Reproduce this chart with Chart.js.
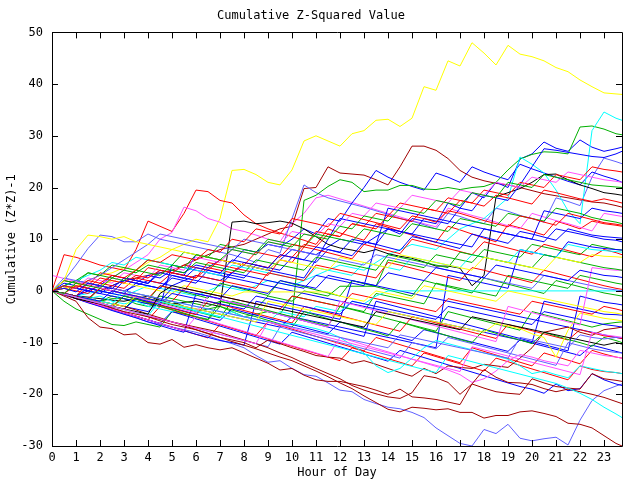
<!DOCTYPE html>
<html>
<head>
<meta charset="utf-8">
<script src="https://cdn.jsdelivr.net/npm/chart.js@4.4.0/dist/chart.umd.min.js"></script>
<style>
  body { margin: 0; background: #fff; }
  canvas { display: block; }
</style>
</head>
<body>
<canvas id="myChart" width="640" height="480" style="width:640px;height:480px"></canvas>
<script>
// sample times (hours)
const hours = [0,0.5,1,1.5,2,2.5,3,3.5,4,4.5,5,5.5,6,6.5,7,7.5,8,8.5,9,9.5,10,10.5,11,11.5,
  12,12.5,13,13.5,14,14.5,15,15.5,16,16.5,17,17.5,18,18.5,19,19.5,20,20.5,21,21.5,22,22.5,23,23.5,23.75];
const xTicks = [0,1,2,3,4,5,6,7,8,9,10,11,12,13,14,15,16,17,18,19,20,21,22,23];
const yTicks = [-30,-20,-10,0,10,20,30,40,50];

// series values, one per sample time
const yellow1 = [0,0.5,1,2,3,3.5,4.5,4,5.5,6.5,8,9,10,9.5,14,23.3,23.5,22.5,21,20.5,23.4,29,30,29,
  28,30.4,31,33,33.2,31.8,33.4,39.5,38.8,44.5,43.5,48,46,43.7,47.5,45.8,45.3,44.5,43.2,42.4,40.8,39.5,38.3,38.1,38];
const darkred1 = [0,0.5,1,0.5,0,1,2,2.5,3,3.5,4,5,6,7,8,8.5,9,10,11,12,12.5,19.8,20,24,
  22.8,22.6,22.4,21.5,20.5,24,28,28,27.2,25.6,23.3,22,21.3,20.8,20.5,20,19.4,18.8,18.4,18,17.6,17.2,17,16.5,16.2];
const red1 = [0,7,6.5,5.8,5,4.5,4,8,13.5,12.5,11.5,15,19.5,19.2,17.5,17,14.7,13,12,11.2,10.5,9.8,9,12,
  11.2,10.5,9.8,13,12.3,11.5,10.8,10,9.4,12.5,11.8,11,10.2,9.5,12.8,12.2,11.5,10.8,13.5,12.8,12,13.5,13,12.7,12.5];
const magenta1 = [0,-0.5,-1,0,1,2.5,4,5.5,7,10,11.3,16.2,15.5,14,13.3,12,11.5,10.8,10,9.5,13,15,18,18.5,
  17.8,17.1,16.4,15.7,15,14.3,13.6,13,12.4,16,15.3,14.6,14,13.3,12.6,12,15,14.3,13.6,13,12.3,11.6,15,14.6,14.4];
const lightblue1 = [0,2,5,8.2,10.8,10.5,9.5,9.5,11,10,9.5,9,8.5,8,7.5,7,6.3,5.5,8,7.3,14,20.5,19,18,
  17.4,16.8,16.2,15.5,14.8,14,13.5,12.8,12,15,14.4,13.6,13,16,15.4,14.6,14,13.3,18,17.3,16.5,22,25.7,25,24.6];
const blue1 = [0,-0.5,-1,0,1,0.5,0,1,2,1.5,1,2,3,2.5,2,3.5,5,4.5,4,6,8,7.5,7,8.5,
  10,9.5,9,10.5,12,11,14,13.5,13,17,16,19,18,21,20,25.5,26.5,28.8,27.6,27,29.2,27.8,27,27.5,27.8];
const blue2 = [0,1,0.5,0,-0.5,1,2,1.5,3,2.5,4,3.5,5,4.5,6,5.5,8,7.5,9,8.5,10,12,11,14,
  13.5,17,20,23.3,22,21,20.2,19.5,22.8,22,21,24,23,22.2,21.5,24.5,23.6,22.8,22,21.2,20.5,23,22.2,21.5,21];
const green1 = [0,-0.5,-1,-1.5,-2,-1.5,-1.5,-2.5,-3,-2.5,-2,-3,-4,-3.5,-3,-4,-5,-4.5,-4,-4.5,-5,17.5,18.5,20.2,
  21.5,21,19.2,19.5,19.5,20.4,20.4,19.7,19.6,20,19.6,20,20.2,21,23.4,25.5,26.4,26.9,26.8,26.5,31.7,31.9,31.3,30.4,30.2];
const cyan1 = [0,-0.5,-1,-0.5,0,-0.5,-1,0,1,0.5,0,-0.5,-1,0,1,0.5,0,1,2,1.5,1,2,3,4,
  5,4.5,4,5.5,7,8,9,8.5,8,10,12,13,14,16,18,25.9,24.5,22.8,19.5,15.5,13,31,34.6,33.4,33];
const black1 = [0,-0.5,-1,-1.2,-1.5,-1.8,-2,-1.5,-1,-1.8,-2.5,-2.2,-2,-2.5,-3,13.3,13.5,13,13.2,13.5,13.1,12,10.5,9,
  8.3,7.9,7.4,8,7.2,6.7,6.3,5.6,4.8,4.8,4.4,1,3,18.2,19,19.8,21,22.5,22.6,21.5,20.5,19.8,19,18.7,18.5];
const black2 = [0,-0.5,-1.5,-2,-2.5,-3,-3.5,-4,-4.5,-0.5,1,0.5,0,-0.5,-1,-1.5,-2,-2.5,-3,-3.5,-4,-4.5,-5,-5.5,
  -6,-6.5,-7,-4,-4.5,-5,-5.5,-6,-6.5,-7,-7.5,-5,-5.5,-6,-6.5,-7,-7.5,-8,-8.5,-9,-9.5,-10,-10.5,-10,-10.3];
const cyanFlat = [0,-0.5,-1,-1.5,-1,-2,-2.5,-2,-3,-3.5,-4,-3,-4,-4.5,-5,-4,-5,-5.5,-6,-4,-4.5,-5,-3,-3.5,
  -4,-2,-2.5,-1,0,0,0,0,0,0,0,0,0,0,0,0,0,0,0,0,0,0,0,0,0];
const yellowFlat = [0,0.5,1,1.5,1,2,1.5,1,0.5,0,-0.5,1,0.5,0,-0.5,-1,-0.2,-0.2,-0.2,-0.2,-0.2,-0.2,-0.2,-0.2,
  -1,-1.5,-2,0,-0.5,-1,-1.5,1,0.5,0,-0.5,-1,-1.5,-2,0,-0.5,-1,-1.5,-2,-2.5,-3,-3.5,-4,-4.3,-4.5];
const green2 = [0,-0.5,-1,-1.5,-2,-1,-1.5,-2,-2.5,-1,-1.5,-2,-2.5,-3,-2,-2.5,-3,-3.5,-1,-1.5,-2,0,-0.5,-1,
  0.9,0.9,0.9,0.9,6,5.5,5,4.5,7,6.5,6,5.5,8,7.5,7,6.5,9,8.5,8,7.5,7,9,8.5,8,7.9];
const lightblue2 = [0,-0.7,-1.5,-2.2,-3,-3.7,-4.5,-5.2,-6,-6.5,-7,-7.5,-8,-8.7,-9.5,-10.2,-11,-12.5,-13.8,-13.5,-15,-16.2,-16.5,-17.8,
  -19.2,-19.5,-21,-21.8,-22.5,-22.8,-23.5,-24.5,-26.5,-28,-29.5,-30,-26.8,-27.6,-25.8,-28.5,-29,-28.6,-28.3,-29.8,-25,-21.2,-19.3,-18.4,-18];
const darkred2 = [0,-0.5,-1,-1.8,-2.5,-3,-3.5,-4.2,-5,-5.5,-6,-6.5,-7,-7.5,-8,-8.8,-9.5,-10.2,-11,-12,-12.9,-14,-15,-16,
  -17,-18.3,-19.2,-19.9,-20.5,-20.8,-19.7,-16.4,-16.8,-17.7,-20,-18,-15.2,-16.7,-17.7,-17.8,-18.1,-18.9,-19.5,-19,-19.5,-20,-20.6,-21.4,-21.8];
const darkred3 = [0,-0.7,-1.5,-2,-2.5,-3.3,-4,-4.5,-5,-5.8,-6.5,-7,-7.5,-8.3,-9,-9.8,-10.5,-11.2,-12,-12.8,-13.5,-14.5,-15.5,-16.6,
  -17.8,-18.9,-20.3,-21.6,-22.9,-23.4,-22.5,-22.7,-23,-22.8,-23.5,-23.5,-24.6,-24.1,-24.1,-23.4,-23.2,-23.7,-24.3,-25.6,-25.8,-26.5,-28,-29.5,-30];
const darkred4 = [0,-0.5,-1,-1.5,-2,-2.5,-3,-3.7,-4.5,-5.2,-6,-6.7,-7.5,-8.2,-9,-9.5,-10,-11,-9.5,-10.2,-11,-11.7,-12.5,-12.8,
  -13,-14,-13.5,-14.2,-15,-15.8,-16.5,-15,-16,-14.5,-14.8,-15,-14.2,-14.5,-14.8,-13,-11,-8,-7.5,-7,-8,-8.6,-7.5,-7.2,-7];
const darkred5 = [0,-1,-2,-5.2,-7,-7.3,-8.5,-8.3,-10,-10.3,-9.4,-10.9,-10.4,-11,-11.4,-11,-12,-13,-14,-15.3,-15,-16.3,-17.2,-17.5,
  -17.5,-18,-18.5,-19.2,-20,-19,-20.5,-20.7,-21,-21.5,-22,-18,-18.8,-19.5,-19.8,-20,-17,-17.8,-18.5,-18.8,-19,-16,-17,-17.3,-17.5];
const red2 = [0,1,0.5,2,1.5,3,2.5,4,6,5.5,7,6.5,6,8,7.5,10,9.5,12,11.5,11,14,13.5,13,12.4,
  15,14.4,13.8,13.2,12.6,12,14.5,14,13.3,15.5,15,14.3,13.6,13,12.4,14.5,14,13.3,12.7,15,14.4,13.8,13.2,12.9,12.7];
const red3 = [0,-0.5,1,0.5,2.5,2,1.5,3,2.5,4,3.5,5,4.5,4,6,5.5,5,7.5,7,6.5,9,8.5,11.5,11,
  10.5,13,12.5,12,14.5,14,13.4,16,15.5,15,17.5,17,16.4,18.5,18,17.4,16.8,19.5,19,18.4,17.8,17.3,17.8,17.3,17];
const red4 = [0,-0.5,-1,-1.5,0.5,0,-0.5,-1,-1.5,1,0.5,0,3,2.5,2,1.5,1,0.5,3.5,3,2.5,2,5,4.5,
  4,3.5,3,2.5,5.5,5,4.4,3.8,3.2,2.6,2,4.5,4,3.4,2.8,2.2,1.6,4,3.4,2.8,2.2,1.6,1,0.5,0.3];
const red5 = [0,-0.5,-1,-1.7,-2.3,-3,-1,-1.6,-2.2,-2.8,-3.4,-4,-4.6,-2,-2.6,-3.2,-3.8,-4.4,-5,-5.6,-6.2,-3,-3.6,-4.2,
  -4.8,-5.4,-6,-6.6,-7.2,-7.8,-5,-5.6,-6.2,-6.8,-7.4,-8,-8.6,-9.2,-6.5,-7.1,-7.7,-8.3,-8.9,-9.5,-7.5,-8.1,-8.7,-9,-9.2];
const red6 = [0,-0.7,-1.4,-2.1,-2.8,-3.5,-4.2,-4.9,-5.6,-3,-3.7,-4.4,-5.1,-5.8,-6.5,-7.2,-7.9,-8.6,-6,-6.7,-7.4,-8.1,-8.8,-9.5,
  -10.2,-10.9,-11.6,-9,-9.7,-10.4,-11.1,-11.8,-12.5,-13.2,-13.9,-11,-11.7,-12.4,-13.1,-13.8,-14.5,-12,-12.7,-13.4,-14.1,-11.5,-12.2,-12.8,-13];
const red7 = [0,2,1.5,1,3.5,3,2.5,2,4.5,4,3.5,3,2.5,5.5,5,4.5,4,3.5,3,6,5.5,8.5,8,7.4,
  6.8,6.2,9,8.4,7.8,7.2,10,9.4,8.8,8.2,7.6,7,9.5,8.9,8.3,7.7,7.1,9,8.4,7.8,7.2,6.6,8,7.4,7];
const red8 = [0,-0.5,-1,1.5,1,0.5,0,-0.5,-1,-1.5,-2,0.5,0,-0.5,-1,-1.5,-2,-2.5,-3,-3.5,-1,-1.5,-2,-2.5,
  -3,-0.5,-1,-1.5,-2,-2.5,-3,-3.5,-4,-1.5,-2,-2.5,-3,-3.5,-4,-4.5,-2,-2.5,-3,-3.5,-4,-4.5,-3,-3.5,-3.8];
const red9 = [0,-0.7,-1.4,-2.1,-2.8,-3.5,-4.2,-4.9,-5.6,-6.3,-7,-7.7,-8.4,-9.1,-6.5,-7.2,-7.9,-8.6,-9.3,-10,-10.7,-11.4,-12.1,-12.8,
  -13.5,-11,-11.7,-12.4,-13.1,-13.8,-14.5,-12,-12.7,-13.4,-14.1,-14.8,-15.5,-13,-13.7,-14.4,-15.1,-15.8,-16.5,-17.2,-14.5,-15.2,-15.6,-15.8,-16];
const red10 = [0,0.5,0,-0.5,1.5,1,0.5,2.5,2,1.5,3.5,3,2.5,4.5,4,3.5,5.5,5,4.5,7,6.5,9,8.5,11,
  10.5,13,12.5,15,14.5,17,16.5,16,15.5,18,17.5,17,19.5,19,18.5,21,20.5,20,22.5,22,21.5,24,23.5,23.2,23];
const green3 = [0,-0.5,1.5,1,0.5,2.5,2,4,3.5,3,5,4.5,7,6.5,6,8,7.5,7,9.5,9,8.5,11,10.5,10,
  12.5,12,14.5,14,13.5,16,15.5,15,17.5,17,16.5,19,18.5,18,21,20.5,20,22.5,22,21.5,21,20.5,20.3,20.1,20];
const green4 = [0,1,2,3.5,3,2.5,4,3.5,5,4.5,4,3.5,5.5,5,4.5,4,3.5,6,5.5,5,4.5,4,6.5,6,
  5.5,5,4.5,4,7,6.5,6,5.5,5,4.5,7.5,7,6.5,6,5.5,5,4.5,7,6.5,6,5.5,5,4.5,4.2,4];
const green5 = [0,-0.5,-1.2,-1.8,-2.5,-3.2,-1,-1.6,-2.3,-3,-3.6,-4.3,-5,-5.6,-3,-3.7,-4.4,-5,-5.7,-6.4,-7,-4,-4.7,-5.4,
  -6,-6.7,-7.4,-8,-8.7,-6,-6.7,-7.4,-8,-8.7,-9.4,-10,-7.5,-8.2,-8.9,-9.5,-10.2,-8,-8.7,-9.4,-10,-10.7,-9,-9.6,-10];
const green6 = [0,2,1.5,3.5,3,5,4.5,4,6,5.5,5,7.5,7,6.5,9,8.5,8,7.5,10,9.5,9,8.5,11,10.5,
  10,9.5,12,11.5,11,10.5,13,12.5,12,11.5,14,13.5,13,12.5,15,14.5,14,13.5,16,15.5,15,14.2,13.7,13.3,13];
const green7 = [0,-0.6,-1.2,-1.8,0.5,0,-0.6,-1.2,-1.8,1,0.4,-0.2,-0.8,-1.4,1.5,0.9,0.3,-0.3,-0.9,2,1.4,0.8,0.2,-0.4,
  -1,2,1.4,0.8,0.2,-0.4,-1,2,1.4,0.8,0.2,-0.4,2.5,1.9,1.3,0.7,0.1,-0.5,2,1.4,0.8,0.2,-0.4,-0.8,-1];
const green8 = [0,-0.6,-1.2,-1.8,-2.4,-3,-3.6,-1,-1.6,-2.2,-2.8,-3.4,-4,-4.6,-5.2,-2,-2.6,-3.2,-3.8,-4.4,-5,-5.6,-6.2,-6.8,
  -3,-3.6,-4.2,-4.8,-5.4,-6,-6.6,-7.2,-7.8,-4,-4.6,-5.2,-5.8,-6.4,-7,-7.6,-4,-4.6,-5.2,-5.8,-6.4,-7,-6.4,-6.1,-6];
const green9 = [0,-2,-3.5,-4.5,-5.5,-6.5,-6.7,-6,-6.5,-7,-4,-4.5,-5,-5.5,-2,-2.5,-3,-3.5,-4,-4.5,-1,-1.5,-2,-2.5,
  -3,-3.5,-4,-0.5,-1,-1.5,-2,-2.5,1.5,1,0.5,0,-0.5,-1,3,2.5,2,1.5,1,0.5,3,2.5,2,1.5,1.3];
const blue3 = [0,0.5,-0.2,1.5,1,0.4,2.5,2,1.4,3.5,3,2.4,4.5,4,3.4,6,5.5,5,4.4,7,6.5,6,8.5,8,
  7.4,6.8,9.5,9,8.4,7.8,10.5,10,9.4,8.8,8.2,11,10.4,9.8,9.2,11.5,11,10.4,9.8,12,11.4,10.8,10.5,10.3,10.2];
const blue4 = [0,-0.5,-1,-1.5,-2,0,-0.5,-1,-1.5,-2,0.5,0,-0.5,-1,-1.5,1,0.5,0,-0.5,2,1.5,1,0.5,3,
  2.5,2,1.5,1,3.5,3,2.5,2,4.5,4,3.5,3,2.5,5,4.5,4,3.5,3,2.5,2,4,3.5,3,2.8,2.6];
const blue5 = [0,-0.5,-1,0.5,0,-0.5,-1,-1.5,-2,-2.5,-0.5,-1,-1.5,-2,-2.5,-3,-3.5,-1,-1.5,-2,-2.5,-3,-3.5,-4,
  -4.5,-2,-2.5,-3,-3.5,-4,-4.5,-5,-5.5,-3,-3.5,-4,-4.5,-5,-5.5,-6,-6.5,-4,-4.5,-5,-5.5,-6,-6.5,-6.8,-7];
const blue6 = [0,-0.6,-1.2,-1.8,-2.4,-3,-3.6,-1.5,-2.1,-2.7,-3.3,-3.9,-4.5,-5.1,-5.7,-3.5,-4.1,-4.7,-5.3,-5.9,-6.5,-7.1,-7.7,-8.3,
  -6,-6.6,-7.2,-7.8,-8.4,-9,-9.6,-7.5,-8.1,-8.7,-9.3,-9.9,-10.5,-11.1,-11.7,-9.5,-10.1,-10.7,-11.3,-11.9,-12.5,-10.5,-11.1,-11.7,-12];
const blue7 = [0,-0.7,-1.4,-2.1,-2.8,-3.5,-4.2,-4.9,-5.6,-6.3,-4,-4.7,-5.4,-6.1,-6.8,-7.5,-8.2,-8.9,-9.6,-10.3,-8,-8.7,-9.4,-10.1,
  -10.8,-11.5,-12.2,-12.9,-13.6,-11.5,-12.2,-12.9,-13.6,-14.3,-15,-15.7,-16.4,-17.1,-17.8,-18.5,-19,-19.8,-18,-19.3,-18.9,-16,-17.2,-18,-18.3];
const blue8 = [0,1,0.5,0,-0.5,-1,-1.5,-2,-2.5,-3,5,4.5,4,3.5,3,2.5,2,1.5,1,0.5,0,-0.5,-1,-1.5,
  -2,-2.5,-3,-3.5,-4,-4.5,-5,-5.5,-6,-6.5,-7,-7.5,-8,-8.5,-9,-9.5,-10,-2,-2.5,-3,-3.5,-4,-4.5,-4.6,-4.7];
const blue9 = [0,-0.5,-1,-1.5,-2,-2.5,-3,-3.5,-4,-2,-2.5,-3,-3.5,-4,-4.5,-5,-5.5,-6,-6.5,-7,-5,-5.5,-6,-6.5,
  -7,-7.5,-8,-8.5,-9,-9.5,-10,-10.5,-11,3,2.5,2,1.5,1,0.5,8,7.5,7,6.5,9.5,9,8.5,8.2,8,7.9];
const blue10 = [0,1,2,1.5,1,3,2.5,2,1.5,4,3.5,3,7,6.5,6,5.5,5,4.5,4,3.5,3,2.5,6,10,
  14,13.5,13,12.5,12,11.5,11,10.5,10,9.5,9,8.5,12,11.5,11,10.5,10,15.5,15,14.5,14,16,15.5,15.2,15];
const blue11 = [0,-0.8,-1.5,-2.3,-3,-3.8,-4.5,-5.2,-6,-6.7,-7.4,-8,-0.5,-1,-1.6,-2.2,-2.8,-3.4,-4,-4.6,-5.2,-5.8,-6.4,-7,
  -7.6,-8.2,-8.8,-2,-2.6,-3.2,-3.8,-4.4,-5,-5.6,-6.2,-6.8,-7.4,-8,-8.6,-9.2,-9.8,-10.4,-11,-11.6,-1,-1.6,-2.2,-2.5,-2.7];
const blue12 = [0,-0.5,-1,-1.5,0.5,0,-0.5,1.5,1,0.5,2.5,2,1.5,4,3.5,3,2.5,5,4.5,4,6.5,6,5.5,8,
  7.5,10,9.5,9,12,11.5,11,14,13.5,13,16,15.5,18.5,18,17.5,20.5,24,27.5,27.2,26.8,26.4,26,25.8,26.5,27];
const blue13 = [0,-0.7,-1.4,-2.1,-2.8,-3.5,-4.2,-4.9,-5.6,-6.3,-7,-7.7,-8.4,-9,-9.6,-10,-10.5,-2,-2.5,-3,-3.5,-4,-4.5,-5,
  -5.5,2,1.5,1,0.5,0,-0.5,-1,-1.5,-2,-2.5,-3,-3.5,-4,-4.5,-5,-5.5,-6,-6.5,-7,-7.5,-8,-8.5,-9,-9.2];
const blue14 = [0,1.5,1,0.5,0,-0.5,2,1.5,1,0.5,3,2.5,2,1.5,1,3.5,3,2.5,2,1.5,1,0.5,3,2.5,
  2,1.5,1,9,16,15.5,15,14.5,14,13.5,13,12.5,12,11.5,11,10.5,10,9.5,12,11.5,11,10.5,10,9.8,9.5];
const magenta2 = [0,-0.6,-1.2,-1.8,-2.4,-3,-3.6,-4.2,-4.8,-5.4,-6,-6.6,-7.2,-7.8,-8.4,-9,-9.6,-10.2,-6,-6.6,-7.2,-7.8,-8.4,-9,
  -9.6,-10.2,-10.8,-11.4,-12,-12.6,-13.2,-13.8,-14.4,-15,-15.6,-10.8,-11.4,-12,-12.6,-13.2,-13.8,-14.4,-15,-15.6,-16.2,-8,-8.5,-8.8,-9];
const magenta3 = [3,2.4,1.8,1.2,0.6,0,-0.6,-1.2,-1.8,-2.4,-3,-3.6,-4.2,-1,-1.6,-2.2,-2.8,-3.4,-4,-4.6,-5.2,-5.8,-6.4,-7,
  -2,-2.6,-3.2,-3.8,-4.4,-5,-5.6,-6.2,-6.8,-7.4,-8,-8.6,-9.2,-9.8,-3,-3.6,-4.2,-4.8,-5.4,-6,-6.6,4.5,4.2,4,4];
const magenta4 = [0,-0.7,-1.4,-2.1,-2.8,-3.5,-4.2,-4.9,-5.6,-6.3,-7,-7.7,-5,-5.7,-6.4,-7.1,-7.8,-8.5,-9.2,-9.9,-10.6,-11.3,-12,-12.7,
  -9,-9.7,-10.4,-11.1,-11.8,-12.5,-13.2,-13.9,-14.6,-15.3,-16.2,-17.7,-17,-15.5,-13.5,-12.3,-12.8,-13.5,-14,-14.5,-11.5,-12,-12.5,-12.8,-13];
const magenta5 = [0,1,0.5,2.5,2,1.5,3.5,3,2.5,5,4.5,4,6.5,6,5.5,8,7.5,7,9.5,9,11.5,11,10.5,13,
  12.5,15,14.5,17,16.5,16,18.5,18,17.5,17,19.5,19,18.5,21,20.5,20,22,21.5,21,23,22.5,22,21.5,21.2,21];
const cyan2 = [0,-0.6,-1.2,-1.8,-2.4,-3,-3.6,-4.2,-4.8,-2,-2.6,-3.2,-3.8,-4.4,-5,-5.6,-6.2,-6.8,-7.4,-8,-8.6,-9.2,-9.8,-10.4,
  -11,-11.6,-12.2,-12.8,-13.4,-14,-14.6,-15.2,-15.8,-12.5,-13.1,-13.7,-14.3,-14.9,-15.5,-16.1,-16.7,-17.3,-17.9,-18.8,-19.8,-21,-22.5,-23.8,-24.5];
const cyan3 = [0,-0.5,-1,-1.5,-2,-2.5,0,-0.5,-1,-1.5,-2,-2.5,-3,-3.5,-4,-4.5,-5,-5.5,-6,-6.5,-6.3,-6.8,-7.3,-8,
  -9,-10.5,-12,-14.5,-15.8,-15,-13,-11,-9.6,-10.2,-10.8,-11.4,-12,-12.6,-13.2,-14.5,-16,-15.5,-16.2,-16.8,-14.5,-15,-15.5,-15.8,-16];
const cyan4 = [0,1,2,3,4,5.5,5,6.5,6,5.5,5,4.5,4,3.5,3,5,4.5,4,3.5,3,2.5,2,4.5,4,
  3.5,3,5.5,5,4.5,4,6.5,6,5.5,5,4.5,7,6.5,6,5.5,8,7.5,7,6.5,9,8.5,8,7.8,7.6,7.5];
const yellow2 = [0,2,8,10.8,10.5,10,10.5,9.5,9,8.5,8,7.5,7,6.5,6,5.5,5,4.5,4,6,5.5,5,4.5,4,
  6.5,6,5.5,5,4.5,7,6.5,6,5.5,5,4.5,4,6.5,6,5.5,5,4.5,4,6.5,6,5.5,7,6.7,6.6,6.5];
const yellow3 = [0,-0.5,-1,-1.5,-2,-2.5,-3,-1,-1.5,-2,-2.5,-3,-3.5,-4,-4.5,-5,-5.5,-6,-2,-2.5,-3,-3.5,-4,-4.5,
  -5,-5.5,-6,-6.5,-4,-4.5,-5,-5.5,-6,-6.5,-7,-7.5,-8,-6.3,-6.8,-7.3,-8.3,-9,-12.8,-7.6,-4.3,-4.8,-5.3,-5.6,-5.8];
const lightblue3 = [0,2.5,2,1.5,1,0.5,0,-0.5,-1,-1.5,-2,-2.5,-3,-3.5,-4,-4.5,-5,-5.5,-6,-6.5,-7,-7.5,-8,-8.5,
  -9,-9.5,-10,-10.5,-11,-8.5,-9,-9.5,-10,-10.5,-11,-11.5,-12,-12.5,-13,-9,-9.5,-10,-10.5,-11,-8.5,-9,-9.3,-9,-9];
const lightblue4 = [0,1,0.5,2,3,4.5,6,7.5,9,11,10.5,10,9.5,9,8.5,8,10,9.5,9,8.5,8,7.5,7,6.5,
  6,5.5,5,7,6.5,6,5.5,5,4.5,4,3.5,3,2.5,2,1.5,1,0.5,3,2.5,2,1.5,1,0.5,0.2,0];
const lightblue5 = [0,-0.6,-1.2,-1.8,-2.4,-3,-3.6,-4.2,-4.8,-5.4,-6,-6.6,-7.2,-7.8,-8.4,-9,-9.6,-10.2,-10.8,-7,-7.6,-8.2,-8.8,-9.4,
  -10,-10.6,-11.2,-11.8,-12.4,-13,-10,-10.6,-11.2,-9,-9.6,-10.2,-10.8,-11.4,-12,-12.6,-13.2,-13.8,-14.4,-10,-10.6,-11.2,-11.6,-11.9,-12];

const RED = '#ff0000', GREEN = '#00b000', BLUE = '#0000ff', MAGENTA = '#ff50ff', CYAN = '#00ffff',
      DARKRED = '#a00000', YELLOW = '#ffff00', LIGHTBLUE = '#6060ff', BLACK = '#000000';

const series = [
  [red2, RED], [green3, GREEN], [blue3, BLUE], [magenta2, MAGENTA], [cyan2, CYAN], [darkred2, DARKRED],
  [yellow2, YELLOW], [lightblue3, LIGHTBLUE], [black2, BLACK],
  [red3, RED], [green4, GREEN], [blue4, BLUE], [magenta3, MAGENTA], [cyan3, CYAN], [darkred3, DARKRED],
  [yellow3, YELLOW], [lightblue4, LIGHTBLUE],
  [red4, RED], [green5, GREEN], [blue5, BLUE], [magenta4, MAGENTA], [cyan4, CYAN], [darkred4, DARKRED],
  [yellowFlat, YELLOW], [lightblue5, LIGHTBLUE],
  [red5, RED], [green6, GREEN], [blue6, BLUE], [magenta5, MAGENTA], [cyanFlat, CYAN], [darkred5, DARKRED],
  [red6, RED], [green7, GREEN], [blue7, BLUE], [blue8, BLUE],
  [red7, RED], [green8, GREEN], [blue9, BLUE], [blue10, BLUE],
  [red8, RED], [green9, GREEN], [blue11, BLUE], [blue13, BLUE], [blue14, BLUE],
  [red9, RED], [red10, RED], [green2, GREEN], [blue12, BLUE],
  [lightblue2, LIGHTBLUE], [black1, BLACK], [cyan1, CYAN], [green1, GREEN], [blue2, BLUE], [blue1, BLUE],
  [lightblue1, LIGHTBLUE], [magenta1, MAGENTA], [red1, RED], [darkred1, DARKRED], [yellow1, YELLOW]
];

const monoFont = "'DejaVu Sans Mono', monospace";

// gnuplot style box with inward ticks on all four sides
const frame = {
  id: 'frame',
  afterDatasetsDraw(chart) {
    const { ctx, chartArea: a, scales: { x, y } } = chart;
    ctx.save();
    ctx.strokeStyle = '#000';
    ctx.lineWidth = 1;
    ctx.beginPath();
    ctx.rect(Math.round(a.left) + 0.5, Math.round(a.top) + 0.5,
      Math.round(a.right - a.left), Math.round(a.bottom - a.top));
    xTicks.forEach(v => {
      const px = Math.round(x.getPixelForValue(v)) + 0.5;
      ctx.moveTo(px, a.bottom); ctx.lineTo(px, a.bottom - 6);
      ctx.moveTo(px, a.top); ctx.lineTo(px, a.top + 6);
    });
    yTicks.forEach(v => {
      const py = Math.round(y.getPixelForValue(v)) + 0.5;
      ctx.moveTo(a.left, py); ctx.lineTo(a.left + 6, py);
      ctx.moveTo(a.right, py); ctx.lineTo(a.right - 6, py);
    });
    ctx.stroke();
    ctx.restore();
  }
};

let ctx = document.getElementById('myChart').getContext('2d');

let myChart = new Chart(ctx, {
  type: 'line',
  data: {
    datasets: series.map(([vals, color]) => ({
      data: vals.map((v, i) => ({ x: hours[i], y: v })),
      borderColor: color,
      borderWidth: 1,
      pointRadius: 0,
      fill: false,
      tension: 0
    }))
  },
  options: {
    responsive: false,
    animation: false,
    layout: { padding: { left: 0, right: 18, top: 0, bottom: 0 } },
    plugins: {
      legend: { display: false },
      tooltip: { enabled: false },
      title: {
        display: true,
        text: 'Cumulative Z-Squared Value',
        color: '#000',
        font: { family: monoFont, size: 12, weight: 'normal' },
        padding: { top: 9, bottom: 9 }
      }
    },
    scales: {
      x: {
        type: 'linear',
        min: 0,
        max: 23.75,
        afterBuildTicks: s => { s.ticks = xTicks.map(v => ({ value: v })); },
        afterFit: s => { s.height = 34; },
        grid: { display: false, drawTicks: false },
        border: { display: false },
        ticks: {
          autoSkip: false,
          maxRotation: 0,
          padding: 5,
          color: '#000',
          font: { family: monoFont, size: 12 },
          callback: v => String(v)
        },
        title: {
          display: true,
          text: 'Hour of Day',
          color: '#000',
          font: { family: monoFont, size: 12 },
          padding: { top: 0, bottom: 0 }
        }
      },
      y: {
        min: -30,
        max: 50,
        afterBuildTicks: s => { s.ticks = yTicks.map(v => ({ value: v })); },
        afterFit: s => { s.width = 52; },
        grid: { display: false, drawTicks: false },
        border: { display: false },
        ticks: {
          padding: 9,
          color: '#000',
          font: { family: monoFont, size: 12 }
        },
        title: {
          display: true,
          text: 'Cumulative (Z*Z)-1',
          color: '#000',
          font: { family: monoFont, size: 12 },
          padding: { top: 5, bottom: 0 }
        }
      }
    }
  },
  plugins: [frame]
});
</script>
</body>
</html>
